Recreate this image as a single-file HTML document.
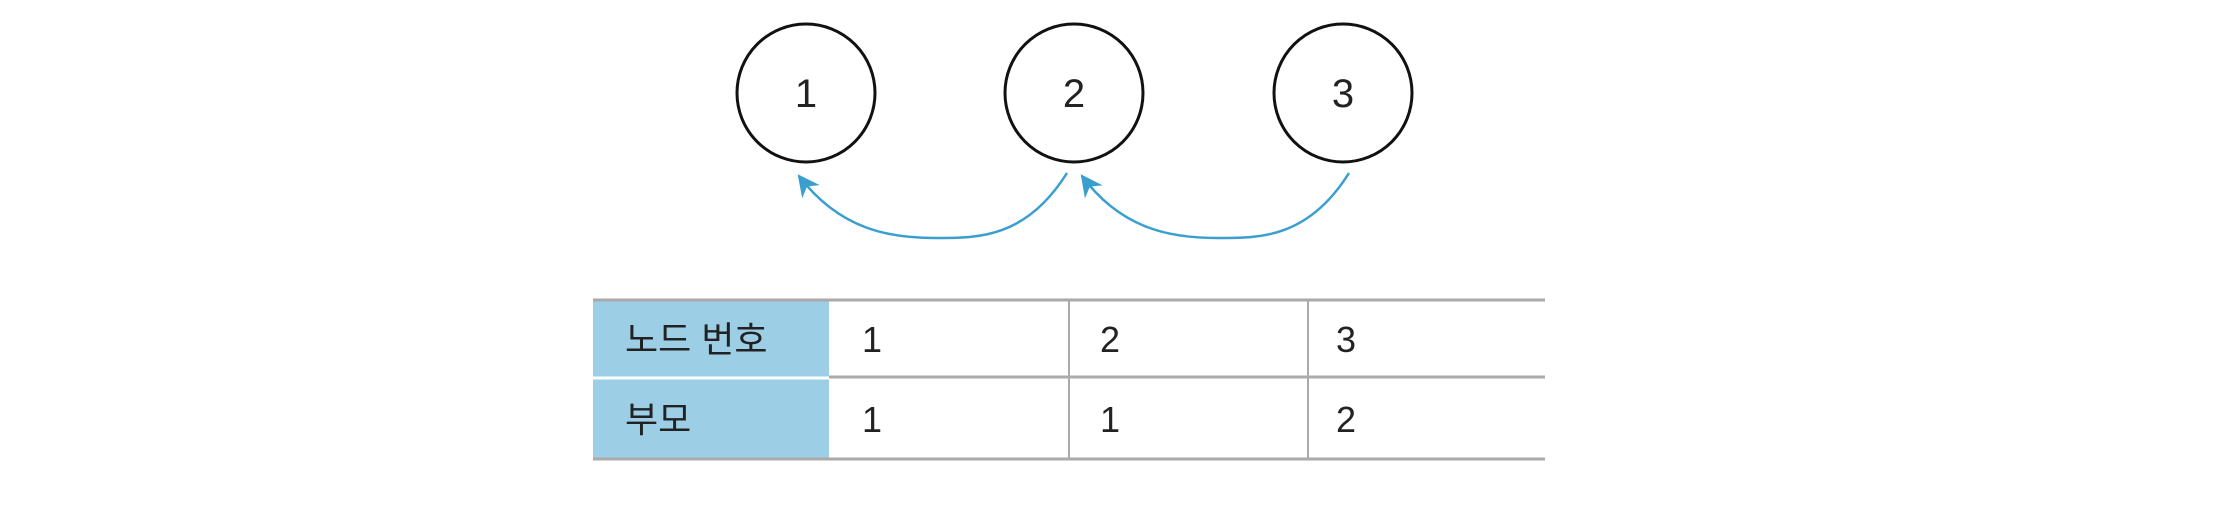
<!DOCTYPE html>
<html><head><meta charset="utf-8"><style>
html,body{margin:0;padding:0;background:#fff;width:2224px;height:505px;overflow:hidden}
text{font-family:"Liberation Sans","Noto Sans CJK KR",sans-serif;fill:#222}
</style></head><body>
<svg width="2224" height="505" viewBox="0 0 2224 505">
<defs>
<marker id="ah2" viewBox="0 0 10 10" refX="9" refY="5" markerWidth="22" markerHeight="22" orient="auto" markerUnits="userSpaceOnUse"><path d="M0,0 L10,5 L0,10 L3,5 Z" fill="#3a9fcf"/></marker></defs>
<g><circle cx="806" cy="93" r="69" fill="none" stroke="#111" stroke-width="3"/><text x="806" y="107" font-size="40" text-anchor="middle">1</text></g>
<g><circle cx="1074" cy="93" r="69" fill="none" stroke="#111" stroke-width="3"/><text x="1074" y="107" font-size="40" text-anchor="middle">2</text></g>
<g><circle cx="1343" cy="93" r="69" fill="none" stroke="#111" stroke-width="3"/><text x="1343" y="107" font-size="40" text-anchor="middle">3</text></g>
<path d="M1067,173 C1025,240 975,238 935,238 C890,238 840,230 799,176" fill="none" stroke="#3a9fcf" stroke-width="2.5" marker-end="url(#ah2)"/>
<path d="M1349,173 C1307,240 1257,238 1217,238 C1172,238 1122,230 1082,176" fill="none" stroke="#3a9fcf" stroke-width="2.5" marker-end="url(#ah2)"/>
<g>
<rect x="593" y="300" width="236" height="77" fill="#9ccfe6"/>
<rect x="593" y="379" width="236" height="80" fill="#9ccfe6"/>
<line x1="593" y1="378" x2="829" y2="378" stroke="#fff" stroke-width="3"/>
<line x1="593" y1="300" x2="1545" y2="300" stroke="#aaa" stroke-width="3"/>
<line x1="829" y1="377" x2="1545" y2="377" stroke="#aaa" stroke-width="3"/>
<line x1="593" y1="459" x2="1545" y2="459" stroke="#aaa" stroke-width="3"/>
<line x1="1069" y1="300" x2="1069" y2="459" stroke="#aaa" stroke-width="2"/>
<line x1="1308" y1="300" x2="1308" y2="459" stroke="#aaa" stroke-width="2"/>
<text x="625" y="352" font-size="36">노드 번호</text>
<text x="625" y="432" font-size="36">부모</text>
<text x="862" y="352" font-size="36">1</text>
<text x="1100" y="352" font-size="36">2</text>
<text x="1336" y="352" font-size="36">3</text>
<text x="862" y="432" font-size="36">1</text>
<text x="1100" y="432" font-size="36">1</text>
<text x="1336" y="432" font-size="36">2</text>
</g>
</svg>
</body></html>
